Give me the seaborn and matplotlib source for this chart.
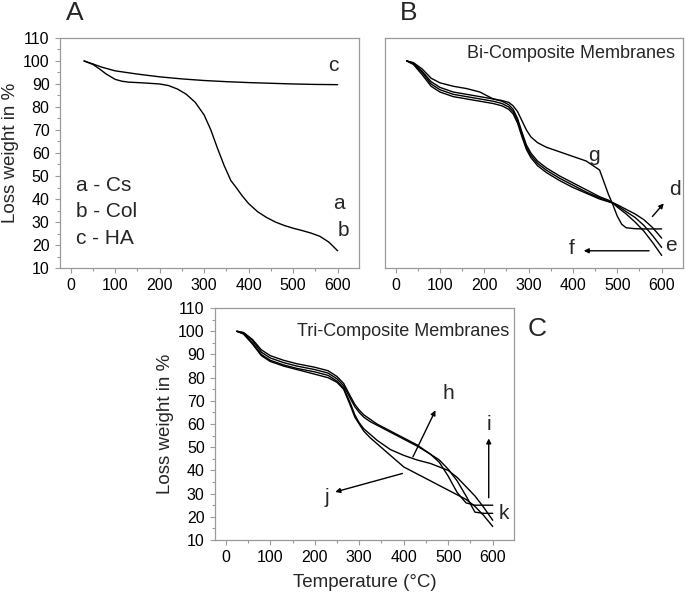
import pandas as pd
import matplotlib.pyplot as plt
from matplotlib.ticker import MultipleLocator
import seaborn as sns

# Panel A: pure components
temp_cs = [30, 50, 65, 80, 100, 115, 130, 160, 200, 220, 240, 260, 280, 300, 315, 330,
           345, 360, 370, 385, 400, 420, 440, 460, 480, 500, 520, 540, 560, 580, 600]
cs_col = [100, 98.5, 96.5, 94.3, 92, 91.2, 90.8, 90.5, 90, 89.3, 87.8, 85.5, 82, 76.5, 70, 62,
          54.5, 48, 45.5, 41.5, 38, 34.5, 32, 30, 28.5, 27.3, 26.3, 25.2, 23.8, 21.3, 17.5]
temp_ha = [30, 50, 70, 100, 150, 200, 250, 300, 350, 400, 450, 500, 550, 600]
ha = [100, 98.7, 97.3, 95.7, 94.3, 93.1, 92.2, 91.5, 91, 90.6, 90.3, 90, 89.8, 89.7]

# Panel B: bi-composite membranes
temp_b = [25, 40, 60, 80, 100, 130, 160, 190, 220, 240, 255, 265, 275, 285, 295, 305, 320,
          340, 370, 400, 430, 460, 480, 490, 500, 510, 520, 540, 560, 580, 600]
bi_d = [100, 99, 95.5, 91, 88.5, 86.5, 85.5, 84.5, 83.5, 82.5, 81, 79, 75, 69, 63.5, 60, 56.5,
        53.5, 50, 47, 44, 41, 39.5, 38.4, 37.5, 36.5, 35.5, 33.5, 31, 27.5, 23]
bi_e = [100, 98.8, 95, 90, 87.5, 85.5, 84.5, 83.5, 82.5, 81.5, 80, 78, 74, 68, 62.5, 59, 55.5,
        52.5, 49, 46, 43, 40.5, 39, 38.3, 37, 35.8, 34.5, 32, 28.5, 24, 19]
bi_f = [100, 98.5, 94, 89, 86.5, 84.5, 83.5, 82.5, 81.5, 80.5, 79, 77, 73, 67, 61.5, 58, 54.5,
        51.5, 48, 45, 42.5, 40, 38.8, 38.2, 36.5, 35, 33.5, 30, 26, 21, 15.5]
bi_g = [100, 99.3, 96.5, 92.5, 90.5, 89, 88, 86.5, 83.5, 82.8, 82, 80.5, 78, 74, 70, 67, 64.5,
        62.5, 60.5, 58.5, 56.5, 52.6, 42, 37.5, 32.5, 29, 27.5, 27.1, 27, 27, 27]

# Panel C: tri-composite membranes
temp_c = [25, 40, 60, 80, 100, 130, 160, 200, 230, 250, 265, 280, 290, 300, 310, 325, 340,
          370, 400, 430, 460, 480, 500, 520, 540, 560, 580, 600]
tri_1 = [100, 99.5, 96.5, 92, 89.5, 87.5, 86, 84.5, 83, 80.5, 77.5, 72, 68.5, 66, 64, 62, 60,
         57, 54, 51, 47, 43.5, 37.5, 30.5, 26, 25, 25, 25]
tri_2 = [100, 99.3, 96, 91, 88.5, 86.5, 85, 83.5, 82, 79.5, 76.5, 71, 67.5, 65, 63, 61, 59.5,
         56.5, 53.5, 50.5, 47, 44.5, 40.5, 35.5, 29, 22, 21.5, 21.5]
tri_3 = [100, 99, 95, 90, 87.5, 85.5, 84, 82.5, 81, 78.5, 75.5, 69, 64, 60.5, 58, 55.5, 53,
         49, 46.5, 44.5, 43, 41.5, 40, 37, 33, 29, 24, 18.5]
tri_4 = [100, 98.8, 94.5, 89.5, 87, 85, 83.5, 81.5, 80, 78, 75, 68, 63, 60, 57, 54, 51.5,
         46.5, 41.5, 38.5, 35.5, 33.5, 31.5, 29.5, 27.5, 24.5, 20.5, 15.8]

sns.set_style("ticks")
plt.rcParams['font.family'] = ['Liberation Sans', 'DejaVu Sans']

GREY = '#9a9a9a'


def long_df(series):
    rows = []
    for name, (temp, vals) in series.items():
        for t, v in zip(temp, vals):
            rows.append({"T": t, "W": v, "curve": name})
    return pd.DataFrame(rows)


def style_axes(ax, yticks=True):
    ax.set_xlim(-24, 648)
    ax.set_ylim(10, 110)
    ax.xaxis.set_major_locator(MultipleLocator(100))
    ax.xaxis.set_minor_locator(MultipleLocator(50))
    for s in ax.spines.values():
        s.set_color(GREY)
        s.set_linewidth(0.9)
    ax.tick_params(which='major', length=3.5, width=0.8, color=GREY, labelsize=11.5,
                   pad=4, labelcolor='black')
    ax.tick_params(which='minor', length=2, width=0.8, color=GREY)
    if yticks:
        ax.yaxis.set_major_locator(MultipleLocator(10))
        ax.yaxis.set_minor_locator(MultipleLocator(5))
    else:
        ax.set_yticks([])
        ax.tick_params(axis='y', which='both', left=False)
    ax.set_xlabel("")
    ax.set_ylabel("")


fig = plt.figure(figsize=(6.85, 5.93), dpi=100)
ax_a = fig.add_axes([0.0876, 0.548, 0.4365, 0.388])
ax_b = fig.add_axes([0.562, 0.548, 0.435, 0.388])
ax_c = fig.add_axes([0.314, 0.0894, 0.4365, 0.391])

line_kw = dict(x="T", y="W", hue="curve", estimator=None, sort=False, legend=False,
               linewidth=1.0)
arrow = dict(arrowstyle='-|>', color='black', lw=1.0, mutation_scale=7)

# A
df_a = long_df({"Cs/Col": (temp_cs, cs_col), "HA": (temp_ha, ha)})
sns.lineplot(data=df_a, ax=ax_a, palette=["black"] * 2, **line_kw)
style_axes(ax_a)
ax_a.set_ylabel("Loss weight in %", fontsize=13.5, labelpad=3)
ax_a.text(12, 46, "a - Cs", fontsize=15, va='center')
ax_a.text(12, 34.5, "b - Col", fontsize=15, va='center')
ax_a.text(12, 23, "c - HA", fontsize=15, va='center')
ax_a.text(591, 98, "c", fontsize=15, ha='center', va='center')
ax_a.text(602, 38, "a", fontsize=15, ha='center', va='center')
ax_a.text(613, 26.5, "b", fontsize=15, ha='center', va='center')

# B
df_b = long_df({"d": (temp_b, bi_d), "e": (temp_b, bi_e),
                "f": (temp_b, bi_f), "g": (temp_b, bi_g)})
sns.lineplot(data=df_b, ax=ax_b, palette=["black"] * 4, **line_kw)
style_axes(ax_b, yticks=False)
ax_b.text(631, 103.4, "Bi-Composite Membranes", fontsize=13, ha='right', va='center')
ax_b.text(447, 59, "g", fontsize=15, ha='center', va='center')
ax_b.text(631, 44, "d", fontsize=15, ha='center', va='center')
ax_b.text(620, 20, "e", fontsize=15, ha='center', va='center')
ax_b.text(398, 18.5, "f", fontsize=15, ha='center', va='center')
ax_b.annotate("", xy=(609, 39), xytext=(575, 31.5), arrowprops=arrow)
ax_b.annotate("", xy=(418, 17.5), xytext=(578, 17.5), arrowprops=arrow)

# C
df_c = long_df({"1": (temp_c, tri_1), "2": (temp_c, tri_2),
                "3": (temp_c, tri_3), "4": (temp_c, tri_4)})
sns.lineplot(data=df_c, ax=ax_c, palette=["black"] * 4, **line_kw)
style_axes(ax_c)
ax_c.set_ylabel("Loss weight in %", fontsize=13.5, labelpad=3)
ax_c.set_xlabel("Temperature (\u00b0C)", fontsize=13.5, labelpad=6)
ax_c.text(636, 100, "Tri-Composite Membranes", fontsize=13, ha='right', va='center')
ax_c.text(501, 73, "h", fontsize=15, ha='center', va='center')
ax_c.text(592, 60, "i", fontsize=15, ha='center', va='center')
ax_c.text(228, 28.5, "j", fontsize=15, ha='center', va='center')
ax_c.text(626, 21.5, "k", fontsize=15, ha='center', va='center')
ax_c.annotate("", xy=(474, 67), xytext=(418, 44.8), arrowprops=arrow)
ax_c.annotate("", xy=(591, 55), xytext=(591, 27), arrowprops=arrow)
ax_c.annotate("", xy=(240, 30.4), xytext=(403, 39), arrowprops=arrow)

# panel letters
fig.text(75 / 685, 1 - 12.5 / 593, "A", fontsize=19, ha='center', va='center')
fig.text(409 / 685, 1 - 12.5 / 593, "B", fontsize=19, ha='center', va='center')
fig.text(537 / 685, 1 - 329 / 593, "C", fontsize=19, ha='center', va='center')

fig.savefig("out.png", dpi=100)
